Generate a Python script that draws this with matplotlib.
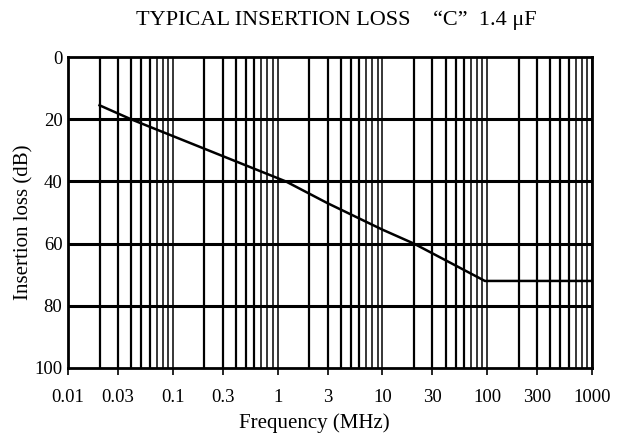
import matplotlib
matplotlib.use("Agg")
import matplotlib.pyplot as plt
import numpy as np

plt.rcParams['font.family'] = ['Liberation Serif', 'DejaVu Serif']

# curve
freq = [0.02, 0.04, 1.2, 3, 10, 20, 95, 1000]
loss = [15.5, 20, 40, 47, 55.5, 60, 72, 72]

xticks = [0.01, 0.03, 0.1, 0.3, 1, 3, 10, 30, 100, 300, 1000]
xticklabels = ['0.01', '0.03', '0.1', '0.3', '1', '3', '10', '30', '100', '300', '1000']
yticks = [0, 20, 40, 60, 80, 100]
decades = [0.01, 0.1, 1, 10, 100]

fig = plt.figure(figsize=(6.18, 4.36), dpi=100)
ax = fig.add_axes([0.110, 0.156, 0.848, 0.713])

ax.set_xscale('log')
ax.set_xlim(0.01, 1000)
ax.set_ylim(100, 0)

# vertical log-paper lines
for d in decades:
    for s in range(2, 11):
        ax.axvline(d * s, color='black', lw=1.6 if s < 7 else 1.1)
for y in yticks[1:-1]:
    ax.axhline(y, color='black', lw=2.2)

ax.plot(freq, loss, color='black', lw=1.8)

ax.set_xticks(xticks)
ax.set_xticklabels(xticklabels)
ax.xaxis.set_minor_locator(plt.NullLocator())
ax.tick_params(axis='x', length=5, width=1.2, pad=10, labelsize=13.5, direction='out')
ax.set_yticks(yticks)
ax.tick_params(axis='y', length=0, pad=4, labelsize=13.5)

for s in ax.spines.values():
    s.set_linewidth(2.0)

ax.set_xlabel('Frequency (MHz)', fontsize=15, va='center')
ax.xaxis.set_label_coords(0.47, -0.177)
ax.set_ylabel('Insertion loss (dB)', fontsize=15, va='center')
ax.yaxis.set_label_coords(-0.085, 0.47)
fig.text(0.545, 0.954, 'TYPICAL INSERTION LOSS    \u201cC\u201d  1.4 \u03bcF',
         ha='center', va='center', fontsize=16)

fig.savefig('out.png', dpi=100)
